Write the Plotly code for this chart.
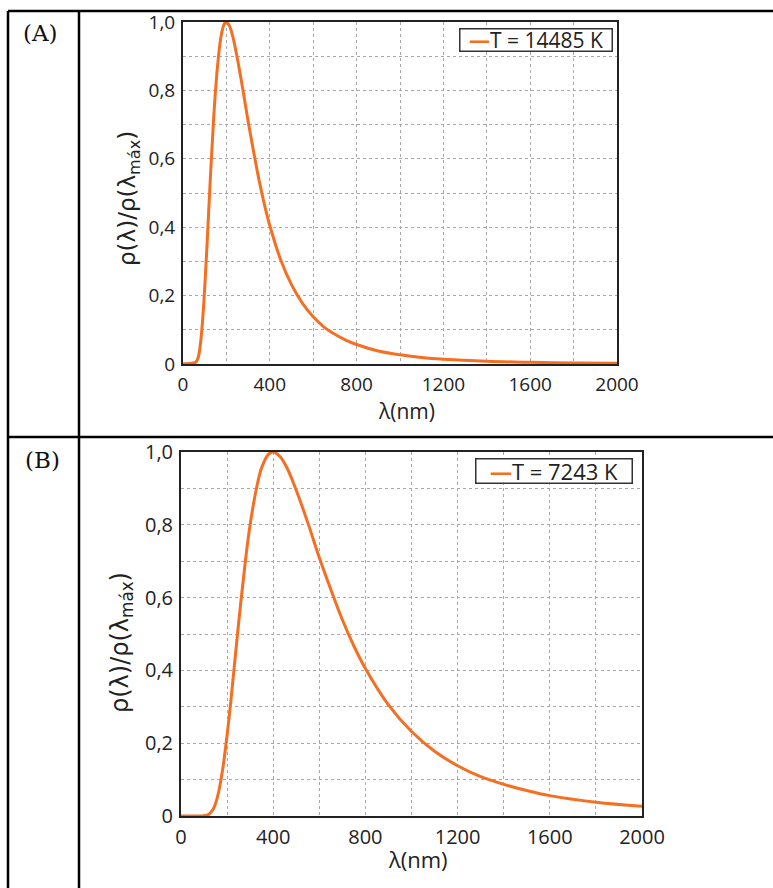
import plotly.graph_objects as go

W, H = 773, 888

# Panel A: T = 14485 K
lam_a = [0, 40, 55, 60, 70, 80, 90, 100, 110, 125, 140, 150, 165, 175, 190, 200,
         215, 230, 250, 275, 300, 325, 350, 375, 400, 450, 500, 550, 600, 650, 700,
         750, 800, 900, 1000, 1100, 1200, 1400, 1600, 1800, 2000]
rho_a = [0.0, 0.002, 0.004, 0.006, 0.019, 0.057, 0.125, 0.222, 0.339, 0.530, 0.704,
         0.801, 0.908, 0.957, 0.994, 1.0, 0.987, 0.956, 0.895, 0.806, 0.710, 0.622,
         0.539, 0.467, 0.405, 0.305, 0.232, 0.178, 0.138, 0.108, 0.087,
         0.070, 0.057, 0.038, 0.027, 0.019, 0.014, 0.008, 0.005, 0.003, 0.002]

# Panel B: T = 7243 K
lam_b = [0, 80, 100, 120, 140, 160, 180, 200, 220, 250, 280, 300, 330, 350, 380, 400,
         430, 460, 500, 550, 600, 650, 700, 750, 800, 900, 1000, 1100, 1200, 1300,
         1400, 1500, 1600, 1800, 2000]
rho_b = [0.0, 0.0, 0.001, 0.004, 0.019, 0.057, 0.125, 0.222, 0.339, 0.530, 0.704,
         0.801, 0.908, 0.957, 0.994, 1.0, 0.987, 0.956, 0.895, 0.806, 0.710, 0.622,
         0.539, 0.467, 0.405, 0.305, 0.232, 0.178, 0.138, 0.108, 0.087, 0.070,
         0.056, 0.038, 0.027]

x_ticks = [0, 400, 800, 1200, 1600, 2000]
x_ticktext = ["0", "400", "800", "1200", "1600", "2000"]
y_ticks = [0, 0.2, 0.4, 0.6, 0.8, 1.0]
y_ticktext = ["0", "0,2", "0,4", "0,6", "0,8", "1,0"]

label_a = "T = 14485 K"
label_b = "T = 7243 K"
panel_labels = ["(A)", "(B)"]
x_title = "λ(nm)"
y_title = "ρ(λ)/ρ(λ<sub>máx</sub>)"

ORANGE = "#F46F22"
FONT = "Open Sans"
TXT = "#222222"

fig = go.Figure()
fig.add_trace(go.Scatter(x=lam_a, y=rho_a, mode="lines", name=label_a, showlegend=False,
                         line=dict(color=ORANGE, width=3, shape="spline", smoothing=1.0),
                         xaxis="x", yaxis="y"))
fig.add_trace(go.Scatter(x=lam_b, y=rho_b, mode="lines", name=label_b, showlegend=False,
                         line=dict(color=ORANGE, width=3, shape="spline", smoothing=1.0),
                         xaxis="x2", yaxis="y2"))


def px_x(p):
    return p / W


def px_y(p):
    return 1 - p / H


dom_a_x = [px_x(183), px_x(617)]
dom_a_y = [px_y(364), px_y(22)]
dom_b_x = [px_x(181), px_x(642)]
dom_b_y = [px_y(816), px_y(452)]

GRID = dict(showgrid=True, gridcolor="#A8A8A8", griddash="dot", gridwidth=1)


def xaxis_cfg(fs):
    return dict(range=[0, 2000], tickvals=x_ticks, ticktext=x_ticktext,
                showline=True, linecolor="#222", linewidth=2, mirror=True,
                minor=dict(dtick=200, tick0=0, **GRID), **GRID, automargin=False,
                ticks="", zeroline=False, ticklabelstandoff=2,
                tickfont=dict(family=FONT, size=fs, color=TXT))


def yaxis_cfg(fs):
    return dict(range=[0, 1.0], tickvals=y_ticks, ticktext=y_ticktext,
                showline=True, linecolor="#222", linewidth=2, mirror=True,
                minor=dict(dtick=0.1, tick0=0, **GRID), **GRID, automargin=False,
                ticks="", zeroline=False, ticklabelstandoff=2,
                tickfont=dict(family=FONT, size=fs, color=TXT))


fig.update_layout(
    width=W, height=H,
    margin=dict(l=0, r=0, t=0, b=0, pad=0, autoexpand=False),
    paper_bgcolor="white", plot_bgcolor="white",
    showlegend=False,
    xaxis=dict(domain=dom_a_x, anchor="y", **xaxis_cfg(19)),
    yaxis=dict(domain=dom_a_y, anchor="x", **yaxis_cfg(19)),
    xaxis2=dict(domain=dom_b_x, anchor="y2", **xaxis_cfg(20)),
    yaxis2=dict(domain=dom_b_y, anchor="x2", **yaxis_cfg(20)),
)

# table borders
lines = [
    (8, 11, 773, 11),
    (8, 11, 8, 888),
    (79, 11, 79, 888),
    (8, 437, 773, 437),
]
for x0, y0, x1, y1 in lines:
    fig.add_shape(type="line", xref="paper", yref="paper",
                  x0=px_x(x0), y0=px_y(y0), x1=px_x(x1), y1=px_y(y1),
                  line=dict(color="black", width=2.5))

swatch = '<span style="color:%s"><b>—</b></span>' % ORANGE

ann = [
    dict(text=panel_labels[0], x=px_x(40), y=px_y(33), xanchor="center", yanchor="middle",
         font=dict(family="DejaVu Serif", size=23, color="#111")),
    dict(text=panel_labels[1], x=px_x(42), y=px_y(460), xanchor="center", yanchor="middle",
         font=dict(family="DejaVu Serif", size=23, color="#111")),
    dict(text=x_title, x=px_x(406), y=px_y(411), xanchor="center", yanchor="middle",
         font=dict(family=FONT, size=21, color=TXT)),
    dict(text=x_title, x=px_x(418), y=px_y(859), xanchor="center", yanchor="middle",
         font=dict(family=FONT, size=22, color=TXT)),
    dict(text=y_title, x=px_x(129), y=px_y(199), xanchor="center", yanchor="middle",
         textangle=-90, font=dict(family="DejaVu Sans", size=23, color=TXT)),
    dict(text=y_title, x=px_x(121), y=px_y(643), xanchor="center", yanchor="middle",
         textangle=-90, font=dict(family="DejaVu Sans", size=24, color=TXT)),
    # legends
    dict(text=swatch + label_a, x=px_x(536), y=px_y(40), xanchor="center", yanchor="middle",
         width=151, height=21, bgcolor="white", bordercolor="#333", borderwidth=1.5,
         borderpad=0, font=dict(family=FONT, size=21, color=TXT)),
    dict(text=swatch + label_b, x=px_x(554), y=px_y(471), xanchor="center", yanchor="middle",
         width=155, height=23, bgcolor="white", bordercolor="#333", borderwidth=1.5,
         borderpad=0, font=dict(family=FONT, size=22, color=TXT)),
]
for a in ann:
    a.update(xref="paper", yref="paper", showarrow=False)
fig.update_layout(annotations=ann)

fig.write_html("out.html", config={"displayModeBar": False},
               post_script="document.body.style.margin='0';document.body.style.overflow='hidden';")
